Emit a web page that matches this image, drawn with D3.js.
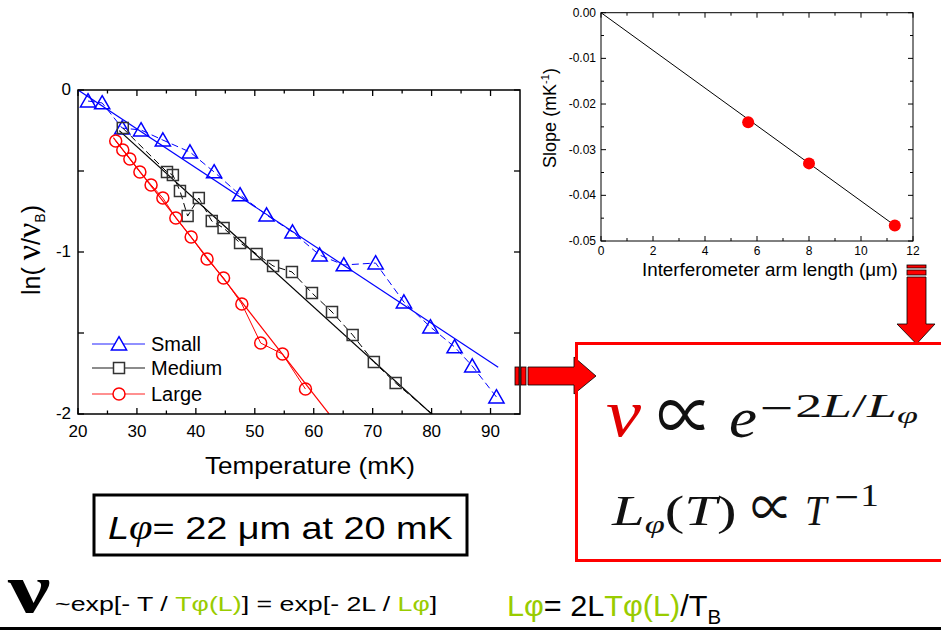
<!DOCTYPE html>
<html><head><meta charset="utf-8">
<script src="https://cdn.jsdelivr.net/npm/d3@7"></script>
<style>
html,body{margin:0;padding:0;background:#fff;}
</style></head>
<body>
<svg id="c" width="941" height="631" font-family="Liberation Sans, Arial, sans-serif"></svg>
<script>
// ---------- DATA ----------
const seriesNames = ["Small", "Medium", "Large"];
const smallT  = [21.7,24.1,27.5,30.7,34.4,39.0,43.1,47.5,52.0,56.4,61.0,65.1,70.5,75.3,79.8,83.9,86.9,91.0];
const smallLn = [-0.068,-0.08,-0.235,-0.247,-0.309,-0.383,-0.506,-0.648,-0.772,-0.877,-1.019,-1.080,-1.068,-1.309,-1.463,-1.586,-1.704,-1.895];
const mediumT  = [27.6,35.1,36.1,37.3,38.6,40.5,42.7,44.7,47.5,50.3,53.1,56.3,59.7,63.1,66.6,70.2,73.9,81.4];
const mediumLn = [-0.235,-0.506,-0.525,-0.623,-0.778,-0.667,-0.809,-0.852,-0.944,-1.012,-1.086,-1.123,-1.253,-1.370,-1.512,-1.679,-1.809,-2.04];
const largeT  = [26.4,27.6,28.8,30.5,32.4,34.4,36.6,39.2,41.9,44.7,47.8,51.0,54.7,58.6];
const largeLn = [-0.315,-0.370,-0.426,-0.506,-0.586,-0.667,-0.790,-0.907,-1.043,-1.160,-1.321,-1.562,-1.630,-1.846];
// linear fits: ln = slope*(T - T0), drawn from Tstart to Tend
const fitSlope  = [-0.0240, -0.0330, -0.0466];
const fitT0     = [20.0, 19.4, 19.7];
const fitTstart = [20.0, 27.0, 26.0];
const fitTend   = [91.3, 80.0, 62.6];
// inset
const armLength = [5.66, 8.0, 11.3];
const armSlope  = [-0.0240, -0.0330, -0.0466];
const mainXTicks = [20,30,40,50,60,70,80,90];
const mainYTicks = [0,-1,-2];
const insetXTicks = [0,2,4,6,8,10,12];
const insetYTicks = [0.00,-0.01,-0.02,-0.03,-0.04,-0.05];

const svg = d3.select("#c");
const blue = "#0000ff", red = "#ff0000", gray = "#333333", green = "#99cc00";
const serif = "Liberation Serif, 'DejaVu Serif', serif";
const djs = "'DejaVu Serif', serif";
const propFont = "'Noto Sans CJK JP', 'DejaVu Sans', sans-serif";

// horizontal stretch helper (the source slide is stretched horizontally)
function fitW(sel, target, pivot) {
  const bb = sel.node().getBBox();
  const s = target / bb.width;
  const p = pivot !== undefined ? pivot : bb.x;
  sel.attr("transform", `translate(${p},0) scale(${s},1) translate(${-p},0)`);
}

// ---------- MAIN CHART ----------
const M = {l:78, r:520, t:90, b:414};
const x = d3.scaleLinear().domain([20,95]).range([M.l, M.r]);
const y = d3.scaleLinear().domain([0,-2]).range([M.t, M.b]);
const g = svg.append("g");
g.append("clipPath").attr("id","clipMain").append("rect")
  .attr("x",M.l).attr("y",M.t).attr("width",M.r-M.l).attr("height",M.b-M.t);

const minorX = d3.range(25,95,10), minorY = [-0.5,-1.5];
const ax = g.append("g").attr("stroke","#000").attr("stroke-width",1.3);
mainXTicks.forEach(v=>{
  ax.append("line").attr("x1",x(v)).attr("x2",x(v)).attr("y1",M.b).attr("y2",M.b-6);
  ax.append("line").attr("x1",x(v)).attr("x2",x(v)).attr("y1",M.t).attr("y2",M.t+6);
});
minorX.forEach(v=>{
  ax.append("line").attr("x1",x(v)).attr("x2",x(v)).attr("y1",M.b).attr("y2",M.b-3.5);
  ax.append("line").attr("x1",x(v)).attr("x2",x(v)).attr("y1",M.t).attr("y2",M.t+3.5);
});
mainYTicks.concat(minorY).forEach(v=>{
  ax.append("line").attr("y1",y(v)).attr("y2",y(v)).attr("x1",M.l).attr("x2",M.l+6);
  ax.append("line").attr("y1",y(v)).attr("y2",y(v)).attr("x1",M.r).attr("x2",M.r-6);
});

const series = [
  {T:smallT, L:smallLn, color:blue, sym:d3.symbolTriangle, size:100, dash:"7,4"},
  {T:mediumT, L:mediumLn, color:gray, sym:d3.symbolSquare, size:121, dash:"7,4"},
  {T:largeT, L:largeLn, color:red, sym:d3.symbolCircle, size:113, dash:null}
];
const plot = g.append("g").attr("clip-path","url(#clipMain)");
const line = d3.line().x(d=>x(d[0])).y(d=>y(d[1]));
series.forEach((s,i)=>{
  const fitColor = i===1 ? "#000" : s.color;
  plot.append("path")
    .attr("d", line([[fitTstart[i], fitSlope[i]*(fitTstart[i]-fitT0[i])],
                     [fitTend[i], fitSlope[i]*(fitTend[i]-fitT0[i])]]))
    .attr("fill","none").attr("stroke",fitColor).attr("stroke-width",1.2);
  plot.append("path")
    .attr("d", line(s.T.map((t,j)=>[t, s.L[j]])))
    .attr("fill","none").attr("stroke",fitColor).attr("stroke-width",1)
    .attr("stroke-dasharray", s.dash);
  plot.selectAll(null).data(s.T.map((t,j)=>[t,s.L[j]])).enter().append("path")
    .attr("d", d3.symbol(s.sym, s.size)())
    .attr("transform", d=>`translate(${x(d[0])},${y(d[1]) + (i===0?1.5:0)})`)
    .attr("fill","none").attr("stroke",s.color).attr("stroke-width",1.5);
});

g.append("rect").attr("x",M.l).attr("y",M.t).attr("width",M.r-M.l).attr("height",M.b-M.t)
  .attr("fill","none").attr("stroke","#000").attr("stroke-width",1.5);

g.selectAll(null).data(mainXTicks).enter().append("text")
  .attr("x",d=>x(d)).attr("y",M.b+23).attr("text-anchor","middle")
  .attr("font-size",17).text(d=>d);
g.selectAll(null).data(mainYTicks).enter().append("text")
  .attr("x",M.l-7).attr("y",d=>y(d)+5).attr("text-anchor","end")
  .attr("font-size",17).text(d=>d===0?"0":d);

const tt = g.append("text").attr("x",310).attr("y",474).attr("text-anchor","middle")
  .attr("font-size",23).text("Temperature (mK)");
fitW(tt, 210, 310);
const yt = g.append("text").attr("transform","translate(40,250) rotate(-90)")
  .attr("text-anchor","middle").attr("font-size",25);
yt.append("tspan").text("ln( ");
yt.append("tspan").attr("font-family",serif).attr("font-size",34).text("ν");
yt.append("tspan").text("/");
yt.append("tspan").attr("font-family",serif).attr("font-size",34).text("ν");
yt.append("tspan").attr("font-size",14).attr("dy",5).text("B");
yt.append("tspan").attr("dy",-5).text(")");

// legend
const legY = [344, 368, 394];
const legLineColor = ["#6b6bff", "#666666", "#ff6b6b"];
series.forEach((s,i)=>{
  g.append("line").attr("x1",92).attr("x2",145).attr("y1",legY[i]).attr("y2",legY[i])
    .attr("stroke",legLineColor[i]).attr("stroke-width",1.3);
  g.append("path").attr("d", d3.symbol(s.sym, s.size)())
    .attr("transform",`translate(119,${legY[i]+(i===0?1.5:0)})`)
    .attr("fill","#fff").attr("stroke",s.color).attr("stroke-width",1.5);
  g.append("text").attr("x",151).attr("y",legY[i]+7).attr("font-size",20).text(seriesNames[i]);
});

// ---------- INSET ----------
const I = {l:601, r:913, t:12.7, b:241};
const xi = d3.scaleLinear().domain([0,12]).range([I.l, I.r]);
const yi = d3.scaleLinear().domain([0,-0.05]).range([I.t, I.b]);
const gi = svg.append("g");
const ai = gi.append("g").attr("stroke","#000").attr("stroke-width",1);
d3.range(0,12.01,1).forEach(v=>{
  const L = v%2===0 ? 5 : 3;
  ai.append("line").attr("x1",xi(v)).attr("x2",xi(v)).attr("y1",I.b).attr("y2",I.b-L);
  ai.append("line").attr("x1",xi(v)).attr("x2",xi(v)).attr("y1",I.t).attr("y2",I.t+L);
});
d3.range(0,-0.0501,-0.005).forEach((v,k)=>{
  const L = k%2===0 ? 5 : 3;
  ai.append("line").attr("y1",yi(v)).attr("y2",yi(v)).attr("x1",I.l).attr("x2",I.l+L);
  ai.append("line").attr("y1",yi(v)).attr("y2",yi(v)).attr("x1",I.r).attr("x2",I.r-L);
});
gi.append("rect").attr("x",I.l).attr("y",I.t).attr("width",I.r-I.l).attr("height",I.b-I.t)
  .attr("fill","none").attr("stroke","#000").attr("stroke-width",1);
gi.append("path").attr("d", d3.line().x(d=>xi(d[0])).y(d=>yi(d[1]))([[0,0],[armLength[2],armSlope[2]]]))
  .attr("stroke","#000").attr("stroke-width",1).attr("fill","none");
gi.selectAll(null).data(armLength).enter().append("circle")
  .attr("cx",d=>xi(d)).attr("cy",(d,i)=>yi(armSlope[i])).attr("r",6).attr("fill",red);
gi.selectAll(null).data(insetXTicks).enter().append("text")
  .attr("x",d=>xi(d)).attr("y",I.b+14).attr("text-anchor","middle").attr("font-size",12).text(d=>d);
gi.selectAll(null).data(insetYTicks).enter().append("text")
  .attr("x",I.l-5).attr("y",d=>yi(d)+4).attr("text-anchor","end").attr("font-size",12)
  .text(d=>d3.format(".2f")(d).replace("−","-"));
const it = gi.append("text").attr("x",642).attr("y",276).attr("font-size",19)
  .text("Interferometer arm length  (\u03bcm)");
fitW(it, 256, 642);
const st = gi.append("text").attr("transform","translate(556,118) rotate(-90)")
  .attr("text-anchor","middle").attr("font-size",18);
st.append("tspan").text("Slope (mK");
st.append("tspan").attr("font-size",11).attr("dy",-7).text("-1");
st.append("tspan").attr("dy",7).text(")");

// ---------- ARROWS ----------
const ar = svg.append("g").attr("fill",red).attr("stroke","#000").attr("stroke-width",0.8);
ar.append("rect").attr("x",907).attr("y",265).attr("width",19).attr("height",3);
ar.append("rect").attr("x",907).attr("y",270).attr("width",19).attr("height",5);
ar.append("path").attr("d","M907,277 L926,277 L926,324 L935,324 L916.5,344 L897,324 L907,324 Z");
ar.append("rect").attr("x",515).attr("y",367).attr("width",4).attr("height",18);
ar.append("rect").attr("x",521).attr("y",367).attr("width",5).attr("height",18);
ar.append("path").attr("d","M528,367 L574,367 L574,357 L596,376 L574,394 L574,385 L528,385 Z");

// ---------- RED FORMULA BOX ----------
svg.append("rect").attr("x",576.5).attr("y",343.5).attr("width",380).attr("height",217)
  .attr("fill","none").attr("stroke",red).attr("stroke-width",3);
const ink = "#111";
// line 1:  ν ∝ e^{-2L/Lφ}
const f_nu = svg.append("text").attr("x",606).attr("y",436).attr("font-family",serif)
  .attr("font-style","italic").attr("font-size",68).attr("fill","#e00000").text("ν");
fitW(f_nu, 36, 606);
const p1 = svg.append("text").attr("x",657).attr("y",443).attr("font-family",propFont)
  .attr("font-size",74).attr("fill",ink).text("∝");
fitW(p1, 56, 657);
const f_e = svg.append("text").attr("x",729).attr("y",437).attr("font-family",serif)
  .attr("font-style","italic").attr("font-size",58).attr("fill",ink).text("e");
fitW(f_e, 28, 729);
const f1s = svg.append("text").attr("x",758).attr("y",417).attr("font-family",serif)
  .attr("font-size",34).attr("fill",ink);
f1s.append("tspan").attr("font-family",djs).attr("font-size",28).text("−");
f1s.append("tspan").text("2");
f1s.append("tspan").attr("font-style","italic").text("L");
f1s.append("tspan").text("/");
f1s.append("tspan").attr("font-style","italic").text("L");
f1s.append("tspan").attr("font-style","italic").attr("font-size",24).attr("dy",6).text("φ");
fitW(f1s, 160, 758);
// line 2:  Lφ(T) ∝ T^{-1}
const f2a = svg.append("text").attr("x",612).attr("y",525).attr("font-family",serif)
  .attr("font-size",42).attr("fill",ink);
f2a.append("tspan").attr("font-style","italic").text("L");
f2a.append("tspan").attr("font-style","italic").attr("font-size",26).attr("dy",8).text("φ");
f2a.append("tspan").attr("dy",-8).text("(");
f2a.append("tspan").attr("font-style","italic").text("T");
f2a.append("tspan").text(")");
fitW(f2a, 126, 612);
const p2 = svg.append("text").attr("x",751).attr("y",528).attr("font-family",propFont)
  .attr("font-size",54).attr("fill",ink).text("∝");
fitW(p2, 42, 751);
const f_T = svg.append("text").attr("x",805).attr("y",525).attr("font-family",serif)
  .attr("font-style","italic").attr("font-size",42).attr("fill",ink).text("T");
fitW(f_T, 24, 805);
const f_m1 = svg.append("text").attr("x",833).attr("y",506).attr("font-family",serif)
  .attr("font-size",32).attr("fill",ink);
f_m1.append("tspan").attr("font-family",djs).attr("font-size",28).text("−");
f_m1.append("tspan").text("1");
fitW(f_m1, 46, 833);

// ---------- BLACK BOX ----------
svg.append("rect").attr("x",94).attr("y",495).attr("width",373).attr("height",60)
  .attr("fill","none").attr("stroke","#000").attr("stroke-width",3);
const bb = svg.append("text").attr("x",108).attr("y",539).attr("font-size",32);
bb.append("tspan").attr("font-style","italic").text("L");
bb.append("tspan").attr("font-family",serif).attr("font-style","italic").attr("font-size",36).text("φ");
bb.append("tspan").text("= 22 \u03bcm at 20 mK");
fitW(bb, 345, 108);

// ---------- BOTTOM TEXT ----------
const nu = svg.append("text").attr("x",8).attr("y",612).attr("font-family",serif).attr("font-weight","bold")
  .attr("font-size",70).text("ν");
fitW(nu, 44, 8);
const b1 = svg.append("text").attr("x",55).attr("y",611).attr("font-size",21);
b1.append("tspan").text("~exp[- T / ");
b1.append("tspan").attr("fill",green).text("Tφ(L)");
b1.append("tspan").text("] =  exp[- 2L / ");
b1.append("tspan").attr("fill",green).text("Lφ");
b1.append("tspan").text("]");
fitW(b1, 382, 55);
const b2 = svg.append("text").attr("x",507).attr("y",616).attr("font-size",30);
b2.append("tspan").attr("fill",green).text("Lφ");
b2.append("tspan").text("= 2L");
b2.append("tspan").attr("fill",green).text("Tφ(L)");
b2.append("tspan").text("/T");
b2.append("tspan").attr("font-size",20).attr("dy",8).text("B");
fitW(b2, 212, 507);
svg.append("line").attr("x1",0).attr("x2",941).attr("y1",628.5).attr("y2",628.5)
  .attr("stroke","#000").attr("stroke-width",3);
</script>
</body></html>
